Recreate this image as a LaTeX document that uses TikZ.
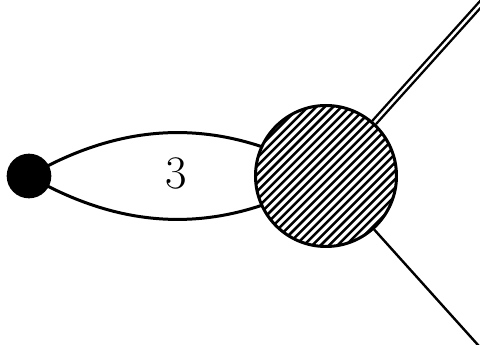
\documentclass[tikz,border=0pt]{standalone}
\usetikzlibrary{backgrounds}

\begin{document}
\begin{tikzpicture}[
  x=0.75pt, y=-0.75pt,
  vertex/.style={circle, fill=black, inner sep=0pt, minimum size=33.5pt},
  blob/.style={circle, draw=black, fill=white, line width=2.25pt, inner sep=0pt, minimum size=105.75pt},
  hatch/.style={line width=1.9pt},
  prop/.style={line width=2.25pt},
  leg/.style={line width=1.8pt},
  dleg/.style={line width=1.8pt, double=white, double distance=1.8pt},
]

% Frame
\useasboundingbox (0,0) rectangle (480,345);
\clip (0,0) rectangle (480,345);

% Vertex and blob
\node[vertex] (dot) at (29,176) {};
\node[blob] (blob) at (326,176) {};

% Hatching inside the blob
\begin{scope}
  \clip (blob.center) circle[radius=70.5];
  \foreach \k in {356,364.4,...,650}
    \draw[hatch] (\k-100,100) -- (\k-260,260);
\end{scope}

% Loop label
\node[font=\fontsize{35}{42}\selectfont] (num) at (176,173) {3};

% Outgoing legs
\coordinate (top) at (487,-3);
\coordinate (bot) at (487,355);

\begin{scope}[on background layer]
  \draw[prop] (dot.center) to[bend left=30] (blob.center);
  \draw[prop] (dot.center) to[bend right=30] (blob.center);
  \draw[dleg] (blob) -- (top);
  \draw[leg] (blob) -- (bot);
\end{scope}

\end{tikzpicture}
\end{document}
